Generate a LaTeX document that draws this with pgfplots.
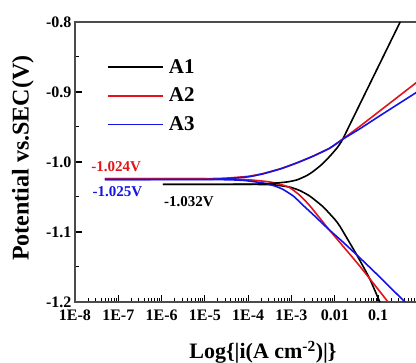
\documentclass[border=0pt]{standalone}
\usepackage{pgfplots}
\pgfplotsset{compat=1.18}
\usepackage{fontspec}
\setmainfont{Liberation Serif}
\definecolor{myred}{RGB}{225,20,25}
\definecolor{myblue}{RGB}{20,20,230}
\begin{document}
\begin{tikzpicture}
\begin{axis}[
  scale only axis, width=345pt, height=280pt,
  xmin=-8, xmax=-0.032, ymin=-1.2, ymax=-0.8,
  axis line style={line width=1.4pt, color=black!70},
  xtick pos=left, ytick pos=left,
  tick align=inside,
  major tick length=7pt, minor tick length=4pt,
  major tick style={line width=1.2pt, draw=black},
  minor tick style={line width=1pt, draw=black},
  xtick={-8,-7,-6,-5,-4,-3,-2,-1},
  xticklabels={1E-8,1E-7,1E-6,1E-5,1E-4,1E-3,0.01,0.1},
  minor xtick={-7.699,-7.523,-7.398,-7.301,-7.222,-7.155,-7.097,-7.046,
               -6.699,-6.523,-6.398,-6.301,-6.222,-6.155,-6.097,-6.046,
               -5.699,-5.523,-5.398,-5.301,-5.222,-5.155,-5.097,-5.046,
               -4.699,-4.523,-4.398,-4.301,-4.222,-4.155,-4.097,-4.046,
               -3.699,-3.523,-3.398,-3.301,-3.222,-3.155,-3.097,-3.046,
               -2.699,-2.523,-2.398,-2.301,-2.222,-2.155,-2.097,-2.046,
               -1.699,-1.523,-1.398,-1.301,-1.222,-1.155,-1.097,-1.046,
               -0.699,-0.523,-0.398,-0.301,-0.222,-0.155},
  ytick={-1.2,-1.1,-1.0,-0.9,-0.8},
  yticklabels={-1.2,-1.1,-1.0,-0.9,-0.8},
  minor ytick={-1.15,-1.05,-0.95,-0.85},
  xticklabel style={font=\bfseries\fontsize{16}{16}\selectfont, yshift=-4pt},
  yticklabel style={font=\bfseries\fontsize{16}{16}\selectfont},
  ylabel={Potential vs.SEC(V)},
  ylabel style={font=\bfseries\fontsize{24}{24}\selectfont, at={(axis description cs:-0.151,0.514)}, anchor=center},
  xlabel={Log\{|i(A cm\textsuperscript{-2})|\}},
  xlabel style={font=\bfseries\fontsize{22}{22}\selectfont, at={(axis description cs:0.545,-0.179)}, anchor=center},
  legend style={draw=none, fill=none, at={(axis description cs:0.093,0.875)}, anchor=north west,
    font=\bfseries\fontsize{21}{21}\selectfont, row sep=9.5pt, inner xsep=0pt, inner ysep=0pt},
  legend cell align=left,
  legend image code/.code={\draw[#1, line width=1.6pt] (0pt,0pt) -- (55pt,0pt); \path (58pt,0pt);},
]
% A1 cathodic
\addplot[black, line width=1.6pt, smooth, tension=0.3] coordinates {
(-0.96,-1.2) (-1.20,-1.166) (-1.49,-1.133) (-1.88,-1.092) (-2.0,-1.082) (-2.27,-1.064) (-2.57,-1.049)
(-2.8,-1.041) (-3.03,-1.036) (-3.43,-1.0325) (-4.0,-1.032) (-5.97,-1.032)};
\addlegendentry{A1}
% A2 cathodic
\addplot[myred, line width=1.6pt, smooth, tension=0.3] coordinates {
(-0.77,-1.2) (-1.42,-1.149) (-1.80,-1.121) (-2.18,-1.093) (-2.57,-1.063) (-2.80,-1.048)
(-3.03,-1.037) (-3.2,-1.033) (-3.50,-1.0285) (-3.96,-1.0255) (-4.3,-1.0245) (-5.0,-1.024) (-7.31,-1.024)};
\addlegendentry{A2}
% A3 cathodic
\addplot[myblue, line width=1.6pt, smooth, tension=0.3] coordinates {
(-0.38,-1.2) (-1.0,-1.162) (-1.42,-1.137) (-1.80,-1.115) (-2.18,-1.094) (-2.45,-1.078) (-2.73,-1.062)
(-2.95,-1.049) (-3.20,-1.039) (-3.40,-1.034) (-3.66,-1.030) (-4.07,-1.0265) (-4.4,-1.0255) (-5.0,-1.025) (-7.31,-1.025)};
\addlegendentry{A3}
% anodic branches
\addplot[black, line width=1.6pt, smooth, tension=0.3, forget plot] coordinates {
(-5.97,-1.032) (-4.0,-1.0318) (-3.5,-1.0308) (-3.1,-1.0285) (-2.87,-1.0255) (-2.65,-1.0195)
(-2.50,-1.0135) (-2.30,-1.0035) (-2.11,-0.9915) (-1.95,-0.980) (-1.83,-0.969) (-1.58,-0.9375) (-0.49,-0.8)};
\addplot[myred, line width=1.6pt, smooth, tension=0.3, forget plot] coordinates {
(-7.31,-1.024) (-5.0,-1.0238) (-4.5,-1.0230) (-4.0,-1.0205) (-3.66,-1.0165) (-3.25,-1.0095) (-2.87,-1.001)
(-2.5,-0.9915) (-2.11,-0.980) (-1.83,-0.968) (-1.42,-0.949) (-0.96,-0.927) (-0.125,-0.887) (0,-0.881)};
\addplot[myblue, line width=1.6pt, smooth, tension=0.3, forget plot] coordinates {
(-7.31,-1.025) (-5.0,-1.0248) (-4.5,-1.0238) (-4.0,-1.0212) (-3.66,-1.0170) (-3.25,-1.0098) (-2.87,-1.0012)
(-2.5,-0.9917) (-2.11,-0.980) (-1.83,-0.968) (-1.42,-0.9525) (-0.96,-0.934) (-0.125,-0.901) (0,-0.896)};
\node[font=\bfseries\fontsize{15}{15}\selectfont, text=myred] at (axis cs:-7.05,-1.0071) {-1.024V};
\node[font=\bfseries\fontsize{15}{15}\selectfont, text=myblue] at (axis cs:-7.02,-1.043) {-1.025V};
\node[font=\bfseries\fontsize{15}{15}\selectfont, text=black] at (axis cs:-5.37,-1.057) {-1.032V};
\end{axis}
\pgfresetboundingbox
\path[use as bounding box] (current axis.south west) ++(-75pt,-61pt) rectangle ++(416pt,363pt);
\end{tikzpicture}
\end{document}
